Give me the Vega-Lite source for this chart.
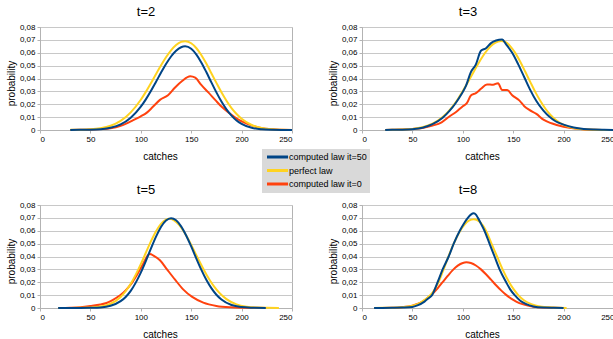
{
"$schema": "https://vega.github.io/schema/vega-lite/v6.json",
"padding": {"left": 5, "top": 5, "right": 0, "bottom": 0},
"background": "white",
"columns": 2,
"spacing": {"row": 21, "column": 30},
"data": {"values": [
{"t":2,"s":"computed law it=0","x":30,"p":0},{"t":2,"s":"computed law it=0","x":40,"p":0.0001},{"t":2,"s":"computed law it=0","x":50,"p":0.0003},{"t":2,"s":"computed law it=0","x":60,"p":0.0007},{"t":2,"s":"computed law it=0","x":70,"p":0.0014},{"t":2,"s":"computed law it=0","x":80,"p":0.0033},{"t":2,"s":"computed law it=0","x":86,"p":0.0052},{"t":2,"s":"computed law it=0","x":92,"p":0.0075},{"t":2,"s":"computed law it=0","x":100,"p":0.0106},{"t":2,"s":"computed law it=0","x":106,"p":0.0135},{"t":2,"s":"computed law it=0","x":112,"p":0.018},{"t":2,"s":"computed law it=0","x":119,"p":0.0234},{"t":2,"s":"computed law it=0","x":127,"p":0.027},{"t":2,"s":"computed law it=0","x":134,"p":0.033},{"t":2,"s":"computed law it=0","x":141,"p":0.038},{"t":2,"s":"computed law it=0","x":149,"p":0.0417},{"t":2,"s":"computed law it=0","x":154,"p":0.0406},{"t":2,"s":"computed law it=0","x":160,"p":0.035},{"t":2,"s":"computed law it=0","x":167,"p":0.0292},{"t":2,"s":"computed law it=0","x":174,"p":0.0232},{"t":2,"s":"computed law it=0","x":180,"p":0.0182},{"t":2,"s":"computed law it=0","x":188,"p":0.013},{"t":2,"s":"computed law it=0","x":196,"p":0.0085},{"t":2,"s":"computed law it=0","x":205,"p":0.005},{"t":2,"s":"computed law it=0","x":218,"p":0.0018},{"t":2,"s":"computed law it=0","x":231,"p":0.0005},{"t":2,"s":"computed law it=0","x":240,"p":0.0002},{"t":2,"s":"computed law it=0","x":250,"p":0},
{"t":2,"s":"perfect law","x":30,"p":0.0001},{"t":2,"s":"perfect law","x":40,"p":0.0002},{"t":2,"s":"perfect law","x":50,"p":0.0005},{"t":2,"s":"perfect law","x":60,"p":0.0014},{"t":2,"s":"perfect law","x":70,"p":0.0033},{"t":2,"s":"perfect law","x":80,"p":0.0071},{"t":2,"s":"perfect law","x":90,"p":0.0137},{"t":2,"s":"perfect law","x":100,"p":0.0235},{"t":2,"s":"perfect law","x":105,"p":0.0296},{"t":2,"s":"perfect law","x":110,"p":0.0363},{"t":2,"s":"perfect law","x":115,"p":0.0433},{"t":2,"s":"perfect law","x":120,"p":0.0501},{"t":2,"s":"perfect law","x":125,"p":0.0565},{"t":2,"s":"perfect law","x":130,"p":0.0619},{"t":2,"s":"perfect law","x":135,"p":0.066},{"t":2,"s":"perfect law","x":140,"p":0.0684},{"t":2,"s":"perfect law","x":144,"p":0.069},{"t":2,"s":"perfect law","x":150,"p":0.0674},{"t":2,"s":"perfect law","x":155,"p":0.0637},{"t":2,"s":"perfect law","x":160,"p":0.0583},{"t":2,"s":"perfect law","x":165,"p":0.0516},{"t":2,"s":"perfect law","x":170,"p":0.0441},{"t":2,"s":"perfect law","x":175,"p":0.0366},{"t":2,"s":"perfect law","x":180,"p":0.0293},{"t":2,"s":"perfect law","x":185,"p":0.0227},{"t":2,"s":"perfect law","x":190,"p":0.017},{"t":2,"s":"perfect law","x":195,"p":0.0124},{"t":2,"s":"perfect law","x":200,"p":0.0087},{"t":2,"s":"perfect law","x":210,"p":0.0039},{"t":2,"s":"perfect law","x":220,"p":0.0015},{"t":2,"s":"perfect law","x":230,"p":0.0005},{"t":2,"s":"perfect law","x":240,"p":0.0002},{"t":2,"s":"perfect law","x":250,"p":0},
{"t":2,"s":"computed law it=50","x":30,"p":0},{"t":2,"s":"computed law it=50","x":40,"p":0.0001},{"t":2,"s":"computed law it=50","x":50,"p":0.0002},{"t":2,"s":"computed law it=50","x":60,"p":0.0006},{"t":2,"s":"computed law it=50","x":70,"p":0.0017},{"t":2,"s":"computed law it=50","x":80,"p":0.0043},{"t":2,"s":"computed law it=50","x":90,"p":0.0095},{"t":2,"s":"computed law it=50","x":100,"p":0.0181},{"t":2,"s":"computed law it=50","x":105,"p":0.0238},{"t":2,"s":"computed law it=50","x":110,"p":0.0303},{"t":2,"s":"computed law it=50","x":115,"p":0.0373},{"t":2,"s":"computed law it=50","x":120,"p":0.0444},{"t":2,"s":"computed law it=50","x":125,"p":0.0512},{"t":2,"s":"computed law it=50","x":130,"p":0.0571},{"t":2,"s":"computed law it=50","x":135,"p":0.0616},{"t":2,"s":"computed law it=50","x":140,"p":0.0643},{"t":2,"s":"computed law it=50","x":144,"p":0.065},{"t":2,"s":"computed law it=50","x":150,"p":0.0631},{"t":2,"s":"computed law it=50","x":155,"p":0.0588},{"t":2,"s":"computed law it=50","x":160,"p":0.0525},{"t":2,"s":"computed law it=50","x":165,"p":0.045},{"t":2,"s":"computed law it=50","x":170,"p":0.037},{"t":2,"s":"computed law it=50","x":175,"p":0.0292},{"t":2,"s":"computed law it=50","x":180,"p":0.0221},{"t":2,"s":"computed law it=50","x":185,"p":0.016},{"t":2,"s":"computed law it=50","x":190,"p":0.0112},{"t":2,"s":"computed law it=50","x":195,"p":0.0074},{"t":2,"s":"computed law it=50","x":200,"p":0.0048},{"t":2,"s":"computed law it=50","x":210,"p":0.0017},{"t":2,"s":"computed law it=50","x":220,"p":0.0005},{"t":2,"s":"computed law it=50","x":230,"p":0.0001},{"t":2,"s":"computed law it=50","x":240,"p":0},{"t":2,"s":"computed law it=50","x":250,"p":0},
{"t":3,"s":"computed law it=0","x":23,"p":0},{"t":3,"s":"computed law it=0","x":30,"p":0.0001},{"t":3,"s":"computed law it=0","x":40,"p":0.0003},{"t":3,"s":"computed law it=0","x":50,"p":0.0008},{"t":3,"s":"computed law it=0","x":60,"p":0.0016},{"t":3,"s":"computed law it=0","x":70,"p":0.0034},{"t":3,"s":"computed law it=0","x":79,"p":0.006},{"t":3,"s":"computed law it=0","x":87,"p":0.0107},{"t":3,"s":"computed law it=0","x":93,"p":0.0138},{"t":3,"s":"computed law it=0","x":100,"p":0.0185},{"t":3,"s":"computed law it=0","x":104,"p":0.0208},{"t":3,"s":"computed law it=0","x":108,"p":0.0268},{"t":3,"s":"computed law it=0","x":113,"p":0.0286},{"t":3,"s":"computed law it=0","x":118,"p":0.032},{"t":3,"s":"computed law it=0","x":124,"p":0.0354},{"t":3,"s":"computed law it=0","x":130,"p":0.0351},{"t":3,"s":"computed law it=0","x":135,"p":0.0364},{"t":3,"s":"computed law it=0","x":139,"p":0.031},{"t":3,"s":"computed law it=0","x":144,"p":0.031},{"t":3,"s":"computed law it=0","x":149,"p":0.027},{"t":3,"s":"computed law it=0","x":156,"p":0.023},{"t":3,"s":"computed law it=0","x":161,"p":0.0185},{"t":3,"s":"computed law it=0","x":166,"p":0.0156},{"t":3,"s":"computed law it=0","x":173,"p":0.0125},{"t":3,"s":"computed law it=0","x":180,"p":0.008},{"t":3,"s":"computed law it=0","x":188,"p":0.0052},{"t":3,"s":"computed law it=0","x":200,"p":0.0026},{"t":3,"s":"computed law it=0","x":213,"p":0.001},{"t":3,"s":"computed law it=0","x":230,"p":0.0002},{"t":3,"s":"computed law it=0","x":250,"p":0},
{"t":3,"s":"perfect law","x":23,"p":0},{"t":3,"s":"perfect law","x":30,"p":0.0001},{"t":3,"s":"perfect law","x":40,"p":0.0003},{"t":3,"s":"perfect law","x":50,"p":0.0008},{"t":3,"s":"perfect law","x":60,"p":0.0021},{"t":3,"s":"perfect law","x":70,"p":0.0049},{"t":3,"s":"perfect law","x":80,"p":0.01},{"t":3,"s":"perfect law","x":90,"p":0.0184},{"t":3,"s":"perfect law","x":95,"p":0.0239},{"t":3,"s":"perfect law","x":100,"p":0.0302},{"t":3,"s":"perfect law","x":105,"p":0.037},{"t":3,"s":"perfect law","x":110,"p":0.0441},{"t":3,"s":"perfect law","x":115,"p":0.0511},{"t":3,"s":"perfect law","x":120,"p":0.0575},{"t":3,"s":"perfect law","x":125,"p":0.0628},{"t":3,"s":"perfect law","x":130,"p":0.0667},{"t":3,"s":"perfect law","x":135,"p":0.0688},{"t":3,"s":"perfect law","x":138,"p":0.0692},{"t":3,"s":"perfect law","x":142,"p":0.0684},{"t":3,"s":"perfect law","x":147,"p":0.0652},{"t":3,"s":"perfect law","x":152,"p":0.0599},{"t":3,"s":"perfect law","x":157,"p":0.053},{"t":3,"s":"perfect law","x":162,"p":0.0452},{"t":3,"s":"perfect law","x":167,"p":0.0372},{"t":3,"s":"perfect law","x":172,"p":0.0294},{"t":3,"s":"perfect law","x":177,"p":0.0225},{"t":3,"s":"perfect law","x":182,"p":0.0165},{"t":3,"s":"perfect law","x":187,"p":0.0117},{"t":3,"s":"perfect law","x":192,"p":0.008},{"t":3,"s":"perfect law","x":200,"p":0.004},{"t":3,"s":"perfect law","x":210,"p":0.0015},{"t":3,"s":"perfect law","x":220,"p":0.0005},{"t":3,"s":"perfect law","x":230,"p":0.0001},{"t":3,"s":"perfect law","x":240,"p":0},{"t":3,"s":"perfect law","x":250,"p":0},
{"t":3,"s":"computed law it=50","x":23,"p":0},{"t":3,"s":"computed law it=50","x":30,"p":0.0001},{"t":3,"s":"computed law it=50","x":40,"p":0.0002},{"t":3,"s":"computed law it=50","x":50,"p":0.0006},{"t":3,"s":"computed law it=50","x":60,"p":0.0018},{"t":3,"s":"computed law it=50","x":70,"p":0.0045},{"t":3,"s":"computed law it=50","x":80,"p":0.0095},{"t":3,"s":"computed law it=50","x":87,"p":0.015},{"t":3,"s":"computed law it=50","x":93,"p":0.021},{"t":3,"s":"computed law it=50","x":98,"p":0.027},{"t":3,"s":"computed law it=50","x":103,"p":0.034},{"t":3,"s":"computed law it=50","x":108,"p":0.045},{"t":3,"s":"computed law it=50","x":113,"p":0.051},{"t":3,"s":"computed law it=50","x":118,"p":0.0615},{"t":3,"s":"computed law it=50","x":123,"p":0.0635},{"t":3,"s":"computed law it=50","x":128,"p":0.0675},{"t":3,"s":"computed law it=50","x":133,"p":0.0695},{"t":3,"s":"computed law it=50","x":139,"p":0.0703},{"t":3,"s":"computed law it=50","x":143,"p":0.0665},{"t":3,"s":"computed law it=50","x":149,"p":0.06},{"t":3,"s":"computed law it=50","x":155,"p":0.051},{"t":3,"s":"computed law it=50","x":161,"p":0.041},{"t":3,"s":"computed law it=50","x":167,"p":0.031},{"t":3,"s":"computed law it=50","x":173,"p":0.0225},{"t":3,"s":"computed law it=50","x":180,"p":0.015},{"t":3,"s":"computed law it=50","x":186,"p":0.0102},{"t":3,"s":"computed law it=50","x":192,"p":0.0068},{"t":3,"s":"computed law it=50","x":200,"p":0.0042},{"t":3,"s":"computed law it=50","x":210,"p":0.002},{"t":3,"s":"computed law it=50","x":220,"p":0.0008},{"t":3,"s":"computed law it=50","x":230,"p":0.0003},{"t":3,"s":"computed law it=50","x":240,"p":0.0001},{"t":3,"s":"computed law it=50","x":250,"p":0},
{"t":5,"s":"computed law it=0","x":18,"p":0},{"t":5,"s":"computed law it=0","x":30,"p":0.0002},{"t":5,"s":"computed law it=0","x":40,"p":0.0006},{"t":5,"s":"computed law it=0","x":50,"p":0.0015},{"t":5,"s":"computed law it=0","x":60,"p":0.0027},{"t":5,"s":"computed law it=0","x":66,"p":0.0039},{"t":5,"s":"computed law it=0","x":72,"p":0.0062},{"t":5,"s":"computed law it=0","x":79.5,"p":0.0099},{"t":5,"s":"computed law it=0","x":85,"p":0.0137},{"t":5,"s":"computed law it=0","x":89.5,"p":0.0177},{"t":5,"s":"computed law it=0","x":96,"p":0.0255},{"t":5,"s":"computed law it=0","x":102.5,"p":0.0345},{"t":5,"s":"computed law it=0","x":107,"p":0.041},{"t":5,"s":"computed law it=0","x":109,"p":0.042},{"t":5,"s":"computed law it=0","x":113,"p":0.0405},{"t":5,"s":"computed law it=0","x":119,"p":0.0371},{"t":5,"s":"computed law it=0","x":126,"p":0.03},{"t":5,"s":"computed law it=0","x":134,"p":0.022},{"t":5,"s":"computed law it=0","x":142,"p":0.0145},{"t":5,"s":"computed law it=0","x":151,"p":0.0086},{"t":5,"s":"computed law it=0","x":162,"p":0.0042},{"t":5,"s":"computed law it=0","x":175,"p":0.0016},{"t":5,"s":"computed law it=0","x":189,"p":0.0005},{"t":5,"s":"computed law it=0","x":200,"p":0.0002},{"t":5,"s":"computed law it=0","x":212,"p":0.0001},{"t":5,"s":"computed law it=0","x":224,"p":0},
{"t":5,"s":"perfect law","x":18,"p":0},{"t":5,"s":"perfect law","x":30,"p":0},{"t":5,"s":"perfect law","x":40,"p":0.0001},{"t":5,"s":"perfect law","x":50,"p":0.0003},{"t":5,"s":"perfect law","x":60,"p":0.0011},{"t":5,"s":"perfect law","x":70,"p":0.0033},{"t":5,"s":"perfect law","x":80,"p":0.0086},{"t":5,"s":"perfect law","x":85,"p":0.013},{"t":5,"s":"perfect law","x":90,"p":0.0188},{"t":5,"s":"perfect law","x":95,"p":0.0259},{"t":5,"s":"perfect law","x":100,"p":0.0341},{"t":5,"s":"perfect law","x":105,"p":0.0429},{"t":5,"s":"perfect law","x":110,"p":0.0517},{"t":5,"s":"perfect law","x":115,"p":0.0595},{"t":5,"s":"perfect law","x":120,"p":0.0654},{"t":5,"s":"perfect law","x":125,"p":0.0687},{"t":5,"s":"perfect law","x":128,"p":0.0693},{"t":5,"s":"perfect law","x":133,"p":0.0681},{"t":5,"s":"perfect law","x":138,"p":0.0645},{"t":5,"s":"perfect law","x":143,"p":0.059},{"t":5,"s":"perfect law","x":148,"p":0.0521},{"t":5,"s":"perfect law","x":153,"p":0.0444},{"t":5,"s":"perfect law","x":158,"p":0.0365},{"t":5,"s":"perfect law","x":163,"p":0.029},{"t":5,"s":"perfect law","x":168,"p":0.0222},{"t":5,"s":"perfect law","x":173,"p":0.0164},{"t":5,"s":"perfect law","x":178,"p":0.0117},{"t":5,"s":"perfect law","x":185,"p":0.0069},{"t":5,"s":"perfect law","x":195,"p":0.0028},{"t":5,"s":"perfect law","x":205,"p":0.001},{"t":5,"s":"perfect law","x":215,"p":0.0003},{"t":5,"s":"perfect law","x":225,"p":0.0001},{"t":5,"s":"perfect law","x":237,"p":0},
{"t":5,"s":"computed law it=50","x":18,"p":0},{"t":5,"s":"computed law it=50","x":30,"p":0},{"t":5,"s":"computed law it=50","x":40,"p":0},{"t":5,"s":"computed law it=50","x":50,"p":0.0001},{"t":5,"s":"computed law it=50","x":60,"p":0.0004},{"t":5,"s":"computed law it=50","x":70,"p":0.0017},{"t":5,"s":"computed law it=50","x":80,"p":0.0053},{"t":5,"s":"computed law it=50","x":85,"p":0.0086},{"t":5,"s":"computed law it=50","x":90,"p":0.0133},{"t":5,"s":"computed law it=50","x":95,"p":0.0197},{"t":5,"s":"computed law it=50","x":100,"p":0.0275},{"t":5,"s":"computed law it=50","x":105,"p":0.0365},{"t":5,"s":"computed law it=50","x":110,"p":0.0461},{"t":5,"s":"computed law it=50","x":115,"p":0.0552},{"t":5,"s":"computed law it=50","x":120,"p":0.0629},{"t":5,"s":"computed law it=50","x":125,"p":0.0679},{"t":5,"s":"computed law it=50","x":130,"p":0.0697},{"t":5,"s":"computed law it=50","x":135,"p":0.0681},{"t":5,"s":"computed law it=50","x":140,"p":0.0634},{"t":5,"s":"computed law it=50","x":145,"p":0.0563},{"t":5,"s":"computed law it=50","x":150,"p":0.0478},{"t":5,"s":"computed law it=50","x":155,"p":0.0386},{"t":5,"s":"computed law it=50","x":160,"p":0.0298},{"t":5,"s":"computed law it=50","x":165,"p":0.0219},{"t":5,"s":"computed law it=50","x":170,"p":0.0154},{"t":5,"s":"computed law it=50","x":175,"p":0.0103},{"t":5,"s":"computed law it=50","x":180,"p":0.0066},{"t":5,"s":"computed law it=50","x":190,"p":0.0023},{"t":5,"s":"computed law it=50","x":200,"p":0.0007},{"t":5,"s":"computed law it=50","x":210,"p":0.0002},{"t":5,"s":"computed law it=50","x":224,"p":0},
{"t":8,"s":"computed law it=0","x":12,"p":0},{"t":8,"s":"computed law it=0","x":20,"p":0},{"t":8,"s":"computed law it=0","x":30,"p":0.0001},{"t":8,"s":"computed law it=0","x":40,"p":0.0006},{"t":8,"s":"computed law it=0","x":50,"p":0.0018},{"t":8,"s":"computed law it=0","x":55,"p":0.0031},{"t":8,"s":"computed law it=0","x":60,"p":0.005},{"t":8,"s":"computed law it=0","x":65,"p":0.0077},{"t":8,"s":"computed law it=0","x":70,"p":0.0111},{"t":8,"s":"computed law it=0","x":75,"p":0.0153},{"t":8,"s":"computed law it=0","x":80,"p":0.0201},{"t":8,"s":"computed law it=0","x":85,"p":0.0249},{"t":8,"s":"computed law it=0","x":90,"p":0.0294},{"t":8,"s":"computed law it=0","x":95,"p":0.0329},{"t":8,"s":"computed law it=0","x":100,"p":0.035},{"t":8,"s":"computed law it=0","x":103.5,"p":0.0355},{"t":8,"s":"computed law it=0","x":108,"p":0.0349},{"t":8,"s":"computed law it=0","x":113,"p":0.033},{"t":8,"s":"computed law it=0","x":118,"p":0.03},{"t":8,"s":"computed law it=0","x":123,"p":0.0262},{"t":8,"s":"computed law it=0","x":128,"p":0.022},{"t":8,"s":"computed law it=0","x":133,"p":0.0177},{"t":8,"s":"computed law it=0","x":138,"p":0.0137},{"t":8,"s":"computed law it=0","x":143,"p":0.0102},{"t":8,"s":"computed law it=0","x":148,"p":0.0073},{"t":8,"s":"computed law it=0","x":153,"p":0.005},{"t":8,"s":"computed law it=0","x":160,"p":0.0028},{"t":8,"s":"computed law it=0","x":170,"p":0.001},{"t":8,"s":"computed law it=0","x":180,"p":0.0003},{"t":8,"s":"computed law it=0","x":190,"p":0.0001},{"t":8,"s":"computed law it=0","x":200,"p":0},
{"t":8,"s":"perfect law","x":12,"p":0},{"t":8,"s":"perfect law","x":20,"p":0.0001},{"t":8,"s":"perfect law","x":30,"p":0.0002},{"t":8,"s":"perfect law","x":40,"p":0.0006},{"t":8,"s":"perfect law","x":50,"p":0.0017},{"t":8,"s":"perfect law","x":55,"p":0.003},{"t":8,"s":"perfect law","x":60,"p":0.0052},{"t":8,"s":"perfect law","x":65,"p":0.008},{"t":8,"s":"perfect law","x":70,"p":0.012},{"t":8,"s":"perfect law","x":75,"p":0.0185},{"t":8,"s":"perfect law","x":80,"p":0.028},{"t":8,"s":"perfect law","x":86,"p":0.0405},{"t":8,"s":"perfect law","x":91,"p":0.05},{"t":8,"s":"perfect law","x":97,"p":0.0595},{"t":8,"s":"perfect law","x":102,"p":0.065},{"t":8,"s":"perfect law","x":106,"p":0.0678},{"t":8,"s":"perfect law","x":111,"p":0.069},{"t":8,"s":"perfect law","x":116,"p":0.0675},{"t":8,"s":"perfect law","x":120,"p":0.064},{"t":8,"s":"perfect law","x":123,"p":0.06},{"t":8,"s":"perfect law","x":128.5,"p":0.05},{"t":8,"s":"perfect law","x":134,"p":0.04},{"t":8,"s":"perfect law","x":139.5,"p":0.03},{"t":8,"s":"perfect law","x":146,"p":0.02},{"t":8,"s":"perfect law","x":150,"p":0.015},{"t":8,"s":"perfect law","x":155,"p":0.01},{"t":8,"s":"perfect law","x":161,"p":0.0058},{"t":8,"s":"perfect law","x":168,"p":0.003},{"t":8,"s":"perfect law","x":175,"p":0.0014},{"t":8,"s":"perfect law","x":185,"p":0.0005},{"t":8,"s":"perfect law","x":195,"p":0.0001},{"t":8,"s":"perfect law","x":203,"p":0},
{"t":8,"s":"computed law it=50","x":12,"p":0},{"t":8,"s":"computed law it=50","x":20,"p":0},{"t":8,"s":"computed law it=50","x":30,"p":0.0001},{"t":8,"s":"computed law it=50","x":40,"p":0.0003},{"t":8,"s":"computed law it=50","x":50,"p":0.0008},{"t":8,"s":"computed law it=50","x":55,"p":0.002},{"t":8,"s":"computed law it=50","x":62,"p":0.005},{"t":8,"s":"computed law it=50","x":66,"p":0.0075},{"t":8,"s":"computed law it=50","x":69.5,"p":0.01},{"t":8,"s":"computed law it=50","x":75,"p":0.02},{"t":8,"s":"computed law it=50","x":80,"p":0.03},{"t":8,"s":"computed law it=50","x":86,"p":0.04},{"t":8,"s":"computed law it=50","x":91,"p":0.05},{"t":8,"s":"computed law it=50","x":97,"p":0.06},{"t":8,"s":"computed law it=50","x":101,"p":0.0655},{"t":8,"s":"computed law it=50","x":105,"p":0.07},{"t":8,"s":"computed law it=50","x":108,"p":0.0725},{"t":8,"s":"computed law it=50","x":111,"p":0.0735},{"t":8,"s":"computed law it=50","x":113,"p":0.0725},{"t":8,"s":"computed law it=50","x":115,"p":0.07},{"t":8,"s":"computed law it=50","x":118,"p":0.0655},{"t":8,"s":"computed law it=50","x":121.5,"p":0.06},{"t":8,"s":"computed law it=50","x":126.5,"p":0.05},{"t":8,"s":"computed law it=50","x":131.5,"p":0.04},{"t":8,"s":"computed law it=50","x":136.5,"p":0.03},{"t":8,"s":"computed law it=50","x":143,"p":0.02},{"t":8,"s":"computed law it=50","x":147,"p":0.0145},{"t":8,"s":"computed law it=50","x":151.5,"p":0.01},{"t":8,"s":"computed law it=50","x":157,"p":0.0057},{"t":8,"s":"computed law it=50","x":163,"p":0.003},{"t":8,"s":"computed law it=50","x":170,"p":0.0012},{"t":8,"s":"computed law it=50","x":180,"p":0.0003},{"t":8,"s":"computed law it=50","x":190,"p":0.0001},{"t":8,"s":"computed law it=50","x":200,"p":0}
]},
"concat": [
{"width": 252, "height": 103, "title": {"text": "t=2", "dx": -20},
 "transform": [{"filter": "datum.t == 2"}],
 "mark": {"type": "line", "strokeWidth": 2, "interpolate": "monotone"},
 "encoding": {
  "x": {"field": "x", "type": "quantitative", "scale": {"domain": [0, 250], "nice": false}, "axis": {"values": [0, 50, 100, 150, 200, 250], "title": "catches", "titleX": 120}},
  "y": {"field": "p", "type": "quantitative", "scale": {"domain": [0, 0.08], "nice": false}, "axis": {"values": [0, 0.01, 0.02, 0.03, 0.04, 0.05, 0.06, 0.07, 0.08], "labelExpr": "datum.value === 0 ? '0' : replace(format(datum.value, '.2f'), '.', ',')", "title": "probability", "titleY": 56}},
  "color": {"field": "s", "type": "nominal", "scale": {"domain": ["computed law it=50", "perfect law", "computed law it=0"], "range": ["#004586", "#ffd320", "#ff420e"]}, "legend": {"orient": "none", "legendX": 222, "legendY": 122, "title": null}}
 }},
{"width": 252, "height": 103, "title": {"text": "t=3", "dx": -20},
 "transform": [{"filter": "datum.t == 3"}],
 "mark": {"type": "line", "strokeWidth": 2, "interpolate": "monotone"},
 "encoding": {
  "x": {"field": "x", "type": "quantitative", "scale": {"domain": [0, 250], "nice": false}, "axis": {"values": [0, 50, 100, 150, 200, 250], "title": "catches", "titleX": 120}},
  "y": {"field": "p", "type": "quantitative", "scale": {"domain": [0, 0.08], "nice": false}, "axis": {"values": [0, 0.01, 0.02, 0.03, 0.04, 0.05, 0.06, 0.07, 0.08], "labelExpr": "datum.value === 0 ? '0' : replace(format(datum.value, '.2f'), '.', ',')", "title": "probability", "titleY": 56}},
  "color": {"field": "s", "type": "nominal", "scale": {"domain": ["computed law it=50", "perfect law", "computed law it=0"], "range": ["#004586", "#ffd320", "#ff420e"]}, "legend": {"orient": "none", "legendX": 222, "legendY": 122, "title": null}}
 }},
{"width": 252, "height": 103, "title": {"text": "t=5", "dx": -20},
 "transform": [{"filter": "datum.t == 5"}],
 "mark": {"type": "line", "strokeWidth": 2, "interpolate": "monotone"},
 "encoding": {
  "x": {"field": "x", "type": "quantitative", "scale": {"domain": [0, 250], "nice": false}, "axis": {"values": [0, 50, 100, 150, 200, 250], "title": "catches", "titleX": 120}},
  "y": {"field": "p", "type": "quantitative", "scale": {"domain": [0, 0.08], "nice": false}, "axis": {"values": [0, 0.01, 0.02, 0.03, 0.04, 0.05, 0.06, 0.07, 0.08], "labelExpr": "datum.value === 0 ? '0' : replace(format(datum.value, '.2f'), '.', ',')", "title": "probability", "titleY": 56}},
  "color": {"field": "s", "type": "nominal", "scale": {"domain": ["computed law it=50", "perfect law", "computed law it=0"], "range": ["#004586", "#ffd320", "#ff420e"]}, "legend": {"orient": "none", "legendX": 222, "legendY": 122, "title": null}}
 }},
{"width": 252, "height": 103, "title": {"text": "t=8", "dx": -20},
 "transform": [{"filter": "datum.t == 8"}],
 "mark": {"type": "line", "strokeWidth": 2, "interpolate": "monotone"},
 "encoding": {
  "x": {"field": "x", "type": "quantitative", "scale": {"domain": [0, 250], "nice": false}, "axis": {"values": [0, 50, 100, 150, 200, 250], "title": "catches", "titleX": 120}},
  "y": {"field": "p", "type": "quantitative", "scale": {"domain": [0, 0.08], "nice": false}, "axis": {"values": [0, 0.01, 0.02, 0.03, 0.04, 0.05, 0.06, 0.07, 0.08], "labelExpr": "datum.value === 0 ? '0' : replace(format(datum.value, '.2f'), '.', ',')", "title": "probability", "titleY": 56}},
  "color": {"field": "s", "type": "nominal", "scale": {"domain": ["computed law it=50", "perfect law", "computed law it=0"], "range": ["#004586", "#ffd320", "#ff420e"]}, "legend": {"orient": "none", "legendX": 222, "legendY": 122, "title": null}}
 }}
],
"config": {
 "font": "Liberation Sans",
 "view": {"stroke": "#b3b3b3", "strokeWidth": 1},
 "axis": {"labelFontSize": 8, "titleFontSize": 10, "titleFontWeight": "normal", "labelColor": "#000000", "titleColor": "#000000", "domainColor": "#b3b3b3", "tickColor": "#b3b3b3", "gridColor": "#c8c8c8", "tickSize": 3, "labelPadding": 2},
 "axisX": {"grid": false, "titlePadding": 8},
 "axisY": {"grid": true, "titlePadding": 3},
 "title": {"fontSize": 13, "fontWeight": "normal", "offset": 4, "color": "#000000"},
 "legend": {"fillColor": "#d9d9d9", "padding": 3, "labelFontSize": 9, "labelColor": "#000000", "symbolType": "M0,0H6.5", "symbolSize": 42, "symbolStrokeWidth": 3, "symbolOffset": -3, "labelOffset": 17, "rowPadding": 1.5}
}
}
